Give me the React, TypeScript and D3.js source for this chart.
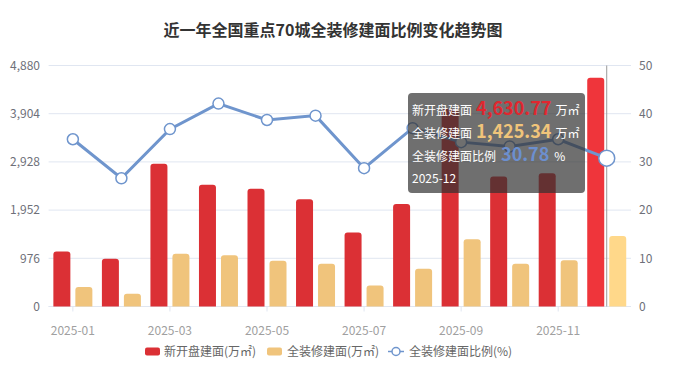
import React from "react";
import * as d3 from "d3";

const months = [
  "2025-01", "2025-02", "2025-03", "2025-04", "2025-05", "2025-06",
  "2025-07", "2025-08", "2025-09", "2025-10", "2025-11", "2025-12",
];
// 新开盘建面 (万㎡)
const newOpenArea = [1113, 966, 2889, 2464, 2383, 2174, 1498, 2073, 4000, 2632, 2700, 4630.77];
// 全装修建面 (万㎡)
const fullDecoArea = [393, 257, 1067, 1040, 925, 864, 425, 763, 1364, 864, 939, 1425.34];
// 全装修建面比例 (%)
const fullDecoRatio = [34.7, 26.6, 36.8, 42.1, 38.7, 39.6, 28.7, 37.0, 34.1, 33.2, 34.7, 30.78];

const leftTicks = [0, 976, 1952, 2928, 3904, 4880];
const rightTicks = [0, 10, 20, 30, 40, 50];

const W = 673;
const H = 372;
const FONT = "'Noto Sans CJK SC', 'Noto Sans', sans-serif";

const RED = "#DB3035";
const RED_HI = "#EF353B";
const YELLOW = "#F0C47C";
const YELLOW_HI = "#FFD88A";
const BLUE = "#6F95CD";

// bar outline with rounded top corners
function barPath(x: number, y: number, w: number, h: number, r: number) {
  const rr = Math.min(r, h / 2, w / 2);
  return `M${x},${y + h}V${y + rr}Q${x},${y} ${x + rr},${y}H${x + w - rr}Q${x + w},${y} ${x + w},${y + rr}V${y + h}Z`;
}

export default function App() {
  const x = d3.scaleBand().domain(months).range([48.6, 631]).padding(0);
  const yL = d3.scaleLinear().domain([0, 4880]).range([306.5, 65.5]);
  const yR = d3.scaleLinear().domain([0, 50]).range([306.5, 65.5]);
  const cx = (m: string) => (x(m) as number) + x.bandwidth() / 2;

  const barW = 17;
  const gap = 2.5;
  const hi = months.length - 1;

  const line = d3
    .line<number>()
    .x((_, i) => cx(months[i]))
    .y((d) => yR(d));

  const tipX = 408;
  const tipY = 93;

  return (
    <svg
      width={W}
      height={H}
      style={{ position: "absolute", left: 0, top: 0, display: "block" }}
      fontFamily={FONT}
    >
      <rect width={W} height={H} fill="#fff" />
      <text x={333} y={36} textAnchor="middle" fontSize={16} fontWeight="bold" fill="#333">
        近一年全国重点70城全装修建面比例变化趋势图
      </text>

      {/* grid + y labels */}
      {leftTicks.map((t) => (
        <line key={t} x1={48.6} x2={631} y1={yL(t)} y2={yL(t)} stroke="#E0E6F1" />
      ))}
      {leftTicks.map((t) => (
        <text key={"l" + t} x={40} y={yL(t)} dy="0.35em" textAnchor="end" fontSize={12} fill="#6E7079">
          {d3.format(",")(t)}
        </text>
      ))}
      {rightTicks.map((t) => (
        <text key={"r" + t} x={639} y={yR(t)} dy="0.35em" fontSize={12} fill="#6E7079">
          {t}
        </text>
      ))}

      {/* x axis */}
      <line x1={48.6} x2={631} y1={306.5} y2={306.5} stroke="#E0E6F1" />
      {months.map((m, i) =>
        i % 2 === 0 ? (
          <g key={m}>
            <line x1={cx(m)} x2={cx(m)} y1={306.5} y2={311.5} stroke="#E0E6F1" />
            <text x={cx(m)} y={331} dy="0.35em" textAnchor="middle" fontSize={12} fill="#A0A0A0">
              {m}
            </text>
          </g>
        ) : null
      )}

      {/* axis pointer */}
      <line x1={cx(months[hi])} x2={cx(months[hi])} y1={65.5} y2={306.5} stroke="#999" strokeWidth={1} />

      {/* bars */}
      {months.map((m, i) => (
        <g key={"b" + m}>
          <path
            d={barPath(cx(m) - gap - barW, yL(newOpenArea[i]), barW, 306.5 - yL(newOpenArea[i]), 3)}
            fill={i === hi ? RED_HI : RED}
          />
          <path
            d={barPath(cx(m) + gap, yL(fullDecoArea[i]), barW, 306.5 - yL(fullDecoArea[i]), 3)}
            fill={i === hi ? YELLOW_HI : YELLOW}
          />
        </g>
      ))}

      {/* ratio line */}
      <path d={line(fullDecoRatio) || ""} fill="none" stroke={BLUE} strokeWidth={3} />
      {fullDecoRatio.map((v, i) => (
        <circle
          key={"c" + i}
          cx={cx(months[i])}
          cy={yR(v)}
          r={i === hi ? 8 : 5.5}
          fill="#fff"
          stroke={BLUE}
          strokeWidth={1.5}
        />
      ))}

      {/* tooltip */}
      <g fontSize={12}>
        <rect x={tipX} y={tipY} width={177} height={100} rx={4} fill="rgba(50,50,50,0.7)" />
        <text x={tipX + 4} y={tipY + 22} fill="#fff">
          新开盘建面
          <tspan dx={4} fontSize={18} fontWeight={600} fill="#E0272F">{d3.format(",.2f")(newOpenArea[hi])}</tspan>
          <tspan dx={4} fill="#fff">万㎡</tspan>
        </text>
        <text x={tipX + 4} y={tipY + 45} fill="#fff">
          全装修建面
          <tspan dx={4} fontSize={18} fontWeight={600} fill="#F0C47A">{d3.format(",.2f")(fullDecoArea[hi])}</tspan>
          <tspan dx={4} fill="#fff">万㎡</tspan>
        </text>
        <text x={tipX + 4} y={tipY + 68} fill="#fff">
          全装修建面比例
          <tspan dx={5} fontSize={18} fontWeight={600} fill="#6C8FCF">{fullDecoRatio[hi].toFixed(2)}</tspan>
          <tspan dx={5} fill="#fff">%</tspan>
        </text>
        <text x={tipX + 4} y={tipY + 90} fill="#fff">
          {months[hi]}
        </text>
      </g>

      {/* legend */}
      <g fontSize={12} fill="#666">
        <rect x={145} y={347.5} width={15} height={8} rx={2} fill={RED} />
        <text x={164} y={351.5} dy="0.35em">新开盘建面(万㎡)</text>
        <rect x={267} y={347.5} width={15} height={8} rx={2} fill={YELLOW} />
        <text x={287} y={351.5} dy="0.35em">全装修建面(万㎡)</text>
        <line x1={388} x2={404} y1={351.5} y2={351.5} stroke={BLUE} strokeWidth={1.5} />
        <circle cx={396} cy={351.5} r={4} fill="#fff" stroke={BLUE} strokeWidth={1.5} />
        <text x={409} y={351.5} dy="0.35em">全装修建面比例(%)</text>
      </g>
    </svg>
  );
}
